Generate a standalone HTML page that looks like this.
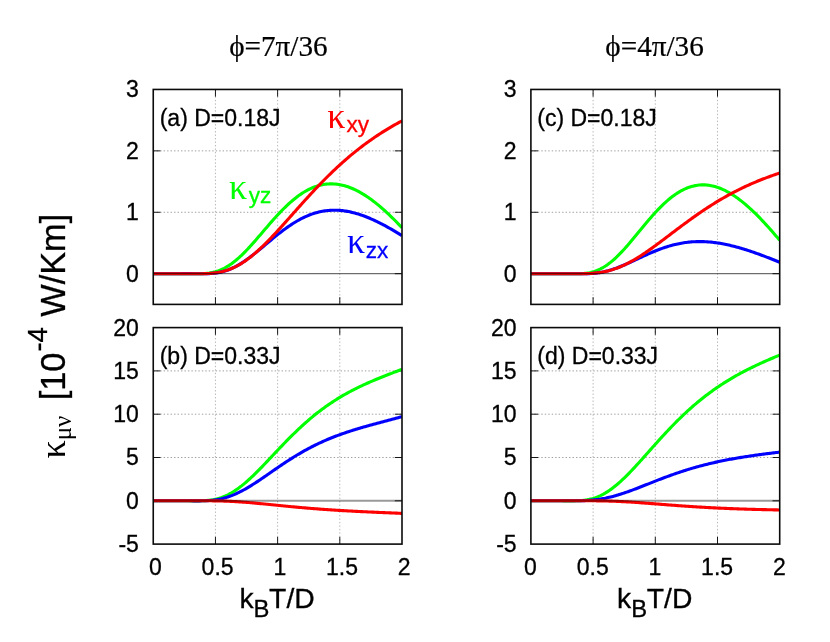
<!DOCTYPE html>
<html><head><meta charset="utf-8"><title>chart</title>
<style>
html,body{margin:0;padding:0;background:#fff;}
body{width:830px;height:642px;overflow:hidden;font-family:"Liberation Sans",sans-serif;}
svg{display:block}
.s{font-family:"Liberation Sans",sans-serif;fill:#000;stroke:#000;stroke-width:0.3}
.t{font-family:"Liberation Serif",serif;fill:#000;stroke:#000;stroke-width:0.2}
.grid{stroke:#858585;stroke-width:0.78;stroke-dasharray:1.4 2.07;fill:none}
.gridv{stroke:#909090;stroke-width:0.65;stroke-dasharray:1.4 2.07;fill:none}
.tick{stroke:#000;stroke-width:0.9;fill:none}
.frame{stroke:#0a0a0a;stroke-width:1.6;fill:none}
.cv{fill:none;stroke-width:3.1;stroke-linejoin:round;stroke-linecap:butt}
</style></head><body>
<svg width="830" height="642" viewBox="0 0 830 642">
<rect width="830" height="642" fill="#fff"/>

<g id="panel-a">
<clipPath id="cla"><rect x="153.25" y="89.45" width="248.75" height="214.95"/></clipPath>
<line class="gridv" x1="215.44" y1="89.45" x2="215.44" y2="304.4"/>
<line class="gridv" x1="277.62" y1="89.45" x2="277.62" y2="304.4"/>
<line class="gridv" x1="339.81" y1="89.45" x2="339.81" y2="304.4"/>
<line class="grid" x1="153.25" y1="212.28" x2="402.0" y2="212.28"/>
<line class="grid" x1="153.25" y1="150.86" x2="402.0" y2="150.86"/>
<line class="tick" x1="215.44" y1="304.4" x2="215.44" y2="297.2"/>
<line class="tick" x1="215.44" y1="89.45" x2="215.44" y2="96.65"/>
<line class="tick" x1="277.62" y1="304.4" x2="277.62" y2="297.2"/>
<line class="tick" x1="277.62" y1="89.45" x2="277.62" y2="96.65"/>
<line class="tick" x1="339.81" y1="304.4" x2="339.81" y2="297.2"/>
<line class="tick" x1="339.81" y1="89.45" x2="339.81" y2="96.65"/>
<line class="tick" x1="153.25" y1="273.69" x2="160.45" y2="273.69"/>
<line class="tick" x1="402.0" y1="273.69" x2="394.8" y2="273.69"/>
<line class="tick" x1="153.25" y1="212.28" x2="160.45" y2="212.28"/>
<line class="tick" x1="402.0" y1="212.28" x2="394.8" y2="212.28"/>
<line class="tick" x1="153.25" y1="150.86" x2="160.45" y2="150.86"/>
<line class="tick" x1="402.0" y1="150.86" x2="394.8" y2="150.86"/>
<g clip-path="url(#cla)">
<path class="cv" stroke="#00ff00" d="M153.25,273.69 L154.49,273.69 L155.74,273.69 L156.98,273.69 L158.22,273.69 L159.47,273.69 L160.71,273.69 L161.96,273.69 L163.20,273.69 L164.44,273.69 L165.69,273.69 L166.93,273.69 L168.18,273.69 L169.42,273.69 L170.66,273.69 L171.91,273.69 L173.15,273.69 L174.39,273.69 L175.64,273.69 L176.88,273.69 L178.12,273.69 L179.37,273.69 L180.61,273.69 L181.86,273.69 L183.10,273.69 L184.34,273.70 L185.59,273.70 L186.83,273.71 L188.07,273.71 L189.32,273.72 L190.56,273.73 L191.81,273.74 L193.05,273.75 L194.29,273.75 L195.54,273.75 L196.78,273.75 L198.03,273.74 L199.27,273.72 L200.51,273.69 L201.76,273.65 L203.00,273.60 L204.24,273.52 L205.49,273.43 L206.73,273.31 L207.97,273.17 L209.22,273.01 L210.46,272.81 L211.71,272.59 L212.95,272.33 L214.19,272.03 L215.44,271.70 L216.68,271.33 L217.93,270.93 L219.17,270.48 L220.41,269.99 L221.66,269.46 L222.90,268.88 L224.14,268.27 L225.39,267.61 L226.63,266.90 L227.88,266.15 L229.12,265.36 L230.36,264.53 L231.61,263.66 L232.85,262.74 L234.09,261.78 L235.34,260.79 L236.58,259.75 L237.82,258.68 L239.07,257.57 L240.31,256.43 L241.56,255.26 L242.80,254.05 L244.04,252.82 L245.29,251.56 L246.53,250.27 L247.78,248.96 L249.02,247.62 L250.26,246.27 L251.51,244.89 L252.75,243.50 L253.99,242.10 L255.24,240.68 L256.48,239.25 L257.73,237.81 L258.97,236.36 L260.21,234.91 L261.46,233.46 L262.70,232.00 L263.94,230.54 L265.19,229.09 L266.43,227.63 L267.68,226.19 L268.92,224.75 L270.16,223.32 L271.41,221.89 L272.65,220.48 L273.89,219.08 L275.14,217.70 L276.38,216.33 L277.62,214.98 L278.87,213.65 L280.11,212.33 L281.36,211.04 L282.60,209.76 L283.84,208.51 L285.09,207.29 L286.33,206.09 L287.58,204.91 L288.82,203.76 L290.06,202.64 L291.31,201.54 L292.55,200.48 L293.79,199.44 L295.04,198.44 L296.28,197.46 L297.52,196.52 L298.77,195.60 L300.01,194.72 L301.26,193.87 L302.50,193.06 L303.74,192.28 L304.99,191.53 L306.23,190.82 L307.48,190.14 L308.72,189.49 L309.96,188.88 L311.21,188.31 L312.45,187.77 L313.69,187.26 L314.94,186.79 L316.18,186.36 L317.43,185.96 L318.67,185.59 L319.91,185.26 L321.16,184.97 L322.40,184.71 L323.64,184.48 L324.89,184.29 L326.13,184.14 L327.38,184.02 L328.62,183.93 L329.86,183.88 L331.11,183.86 L332.35,183.88 L333.59,183.93 L334.84,184.01 L336.08,184.12 L337.32,184.27 L338.57,184.45 L339.81,184.66 L341.06,184.91 L342.30,185.18 L343.54,185.49 L344.79,185.82 L346.03,186.19 L347.27,186.59 L348.52,187.02 L349.76,187.47 L351.01,187.96 L352.25,188.47 L353.49,189.01 L354.74,189.58 L355.98,190.18 L357.23,190.80 L358.47,191.45 L359.71,192.13 L360.96,192.83 L362.20,193.56 L363.44,194.31 L364.69,195.09 L365.93,195.89 L367.17,196.71 L368.42,197.56 L369.66,198.43 L370.91,199.32 L372.15,200.24 L373.39,201.17 L374.64,202.13 L375.88,203.11 L377.12,204.11 L378.37,205.12 L379.61,206.16 L380.86,207.22 L382.10,208.30 L383.34,209.39 L384.59,210.50 L385.83,211.63 L387.08,212.78 L388.32,213.94 L389.56,215.12 L390.81,216.32 L392.05,217.53 L393.29,218.75 L394.54,219.99 L395.78,221.25 L397.02,222.52 L398.27,223.80 L399.51,225.10 L400.76,226.41 L402.00,227.73"/>
<path class="cv" stroke="#0000ff" d="M153.25,273.69 L154.49,273.69 L155.74,273.69 L156.98,273.69 L158.22,273.69 L159.47,273.69 L160.71,273.69 L161.96,273.69 L163.20,273.69 L164.44,273.69 L165.69,273.69 L166.93,273.69 L168.18,273.69 L169.42,273.69 L170.66,273.69 L171.91,273.69 L173.15,273.69 L174.39,273.69 L175.64,273.69 L176.88,273.69 L178.12,273.68 L179.37,273.68 L180.61,273.68 L181.86,273.67 L183.10,273.67 L184.34,273.67 L185.59,273.66 L186.83,273.66 L188.07,273.66 L189.32,273.66 L190.56,273.67 L191.81,273.67 L193.05,273.68 L194.29,273.69 L195.54,273.70 L196.78,273.71 L198.03,273.72 L199.27,273.73 L200.51,273.74 L201.76,273.74 L203.00,273.74 L204.24,273.73 L205.49,273.71 L206.73,273.68 L207.97,273.64 L209.22,273.58 L210.46,273.51 L211.71,273.42 L212.95,273.31 L214.19,273.18 L215.44,273.03 L216.68,272.85 L217.93,272.65 L219.17,272.42 L220.41,272.16 L221.66,271.88 L222.90,271.56 L224.14,271.21 L225.39,270.84 L226.63,270.43 L227.88,269.99 L229.12,269.52 L230.36,269.01 L231.61,268.48 L232.85,267.91 L234.09,267.31 L235.34,266.68 L236.58,266.02 L237.82,265.33 L239.07,264.61 L240.31,263.87 L241.56,263.09 L242.80,262.29 L244.04,261.47 L245.29,260.62 L246.53,259.75 L247.78,258.86 L249.02,257.95 L250.26,257.02 L251.51,256.07 L252.75,255.11 L253.99,254.13 L255.24,253.14 L256.48,252.14 L257.73,251.13 L258.97,250.11 L260.21,249.08 L261.46,248.04 L262.70,247.00 L263.94,245.96 L265.19,244.92 L266.43,243.87 L267.68,242.83 L268.92,241.78 L270.16,240.74 L271.41,239.71 L272.65,238.68 L273.89,237.65 L275.14,236.64 L276.38,235.63 L277.62,234.64 L278.87,233.65 L280.11,232.68 L281.36,231.72 L282.60,230.77 L283.84,229.84 L285.09,228.92 L286.33,228.02 L287.58,227.14 L288.82,226.28 L290.06,225.43 L291.31,224.60 L292.55,223.80 L293.79,223.01 L295.04,222.24 L296.28,221.50 L297.52,220.77 L298.77,220.07 L300.01,219.39 L301.26,218.73 L302.50,218.10 L303.74,217.49 L304.99,216.90 L306.23,216.34 L307.48,215.80 L308.72,215.29 L309.96,214.80 L311.21,214.34 L312.45,213.90 L313.69,213.48 L314.94,213.09 L316.18,212.73 L317.43,212.39 L318.67,212.07 L319.91,211.78 L321.16,211.51 L322.40,211.27 L323.64,211.06 L324.89,210.86 L326.13,210.69 L327.38,210.55 L328.62,210.43 L329.86,210.33 L331.11,210.26 L332.35,210.21 L333.59,210.19 L334.84,210.18 L336.08,210.20 L337.32,210.25 L338.57,210.31 L339.81,210.40 L341.06,210.51 L342.30,210.64 L343.54,210.79 L344.79,210.96 L346.03,211.15 L347.27,211.36 L348.52,211.60 L349.76,211.85 L351.01,212.12 L352.25,212.41 L353.49,212.72 L354.74,213.05 L355.98,213.39 L357.23,213.76 L358.47,214.14 L359.71,214.53 L360.96,214.95 L362.20,215.38 L363.44,215.82 L364.69,216.28 L365.93,216.76 L367.17,217.25 L368.42,217.76 L369.66,218.28 L370.91,218.81 L372.15,219.36 L373.39,219.92 L374.64,220.49 L375.88,221.08 L377.12,221.67 L378.37,222.28 L379.61,222.90 L380.86,223.53 L382.10,224.17 L383.34,224.83 L384.59,225.49 L385.83,226.16 L387.08,226.84 L388.32,227.53 L389.56,228.23 L390.81,228.94 L392.05,229.65 L393.29,230.37 L394.54,231.10 L395.78,231.84 L397.02,232.58 L398.27,233.33 L399.51,234.09 L400.76,234.85 L402.00,235.62"/>
<path class="cv" stroke="#ff0000" d="M153.25,273.69 L154.49,273.69 L155.74,273.69 L156.98,273.69 L158.22,273.69 L159.47,273.69 L160.71,273.69 L161.96,273.69 L163.20,273.69 L164.44,273.69 L165.69,273.69 L166.93,273.69 L168.18,273.69 L169.42,273.69 L170.66,273.69 L171.91,273.69 L173.15,273.69 L174.39,273.69 L175.64,273.69 L176.88,273.69 L178.12,273.69 L179.37,273.69 L180.61,273.69 L181.86,273.69 L183.10,273.69 L184.34,273.69 L185.59,273.69 L186.83,273.69 L188.07,273.69 L189.32,273.69 L190.56,273.70 L191.81,273.70 L193.05,273.70 L194.29,273.71 L195.54,273.71 L196.78,273.72 L198.03,273.72 L199.27,273.72 L200.51,273.71 L201.76,273.70 L203.00,273.68 L204.24,273.66 L205.49,273.63 L206.73,273.58 L207.97,273.53 L209.22,273.46 L210.46,273.38 L211.71,273.28 L212.95,273.16 L214.19,273.03 L215.44,272.87 L216.68,272.70 L217.93,272.50 L219.17,272.27 L220.41,272.02 L221.66,271.75 L222.90,271.45 L224.14,271.12 L225.39,270.76 L226.63,270.37 L227.88,269.95 L229.12,269.50 L230.36,269.03 L231.61,268.51 L232.85,267.97 L234.09,267.40 L235.34,266.80 L236.58,266.16 L237.82,265.49 L239.07,264.80 L240.31,264.07 L241.56,263.31 L242.80,262.52 L244.04,261.70 L245.29,260.85 L246.53,259.97 L247.78,259.07 L249.02,258.13 L250.26,257.17 L251.51,256.19 L252.75,255.17 L253.99,254.14 L255.24,253.08 L256.48,251.99 L257.73,250.89 L258.97,249.76 L260.21,248.61 L261.46,247.44 L262.70,246.25 L263.94,245.05 L265.19,243.83 L266.43,242.59 L267.68,241.33 L268.92,240.06 L270.16,238.78 L271.41,237.48 L272.65,236.17 L273.89,234.85 L275.14,233.52 L276.38,232.18 L277.62,230.83 L278.87,229.48 L280.11,228.11 L281.36,226.74 L282.60,225.36 L283.84,223.98 L285.09,222.59 L286.33,221.20 L287.58,219.81 L288.82,218.42 L290.06,217.02 L291.31,215.62 L292.55,214.22 L293.79,212.82 L295.04,211.43 L296.28,210.03 L297.52,208.63 L298.77,207.24 L300.01,205.85 L301.26,204.46 L302.50,203.08 L303.74,201.70 L304.99,200.33 L306.23,198.96 L307.48,197.59 L308.72,196.23 L309.96,194.88 L311.21,193.54 L312.45,192.20 L313.69,190.86 L314.94,189.54 L316.18,188.22 L317.43,186.91 L318.67,185.61 L319.91,184.32 L321.16,183.03 L322.40,181.76 L323.64,180.49 L324.89,179.23 L326.13,177.99 L327.38,176.75 L328.62,175.52 L329.86,174.30 L331.11,173.09 L332.35,171.89 L333.59,170.70 L334.84,169.52 L336.08,168.35 L337.32,167.20 L338.57,166.05 L339.81,164.91 L341.06,163.78 L342.30,162.67 L343.54,161.56 L344.79,160.47 L346.03,159.38 L347.27,158.31 L348.52,157.25 L349.76,156.19 L351.01,155.15 L352.25,154.12 L353.49,153.10 L354.74,152.09 L355.98,151.09 L357.23,150.10 L358.47,149.12 L359.71,148.15 L360.96,147.20 L362.20,146.25 L363.44,145.31 L364.69,144.38 L365.93,143.47 L367.17,142.56 L368.42,141.66 L369.66,140.78 L370.91,139.90 L372.15,139.03 L373.39,138.17 L374.64,137.32 L375.88,136.48 L377.12,135.65 L378.37,134.83 L379.61,134.02 L380.86,133.22 L382.10,132.43 L383.34,131.64 L384.59,130.87 L385.83,130.10 L387.08,129.34 L388.32,128.59 L389.56,127.85 L390.81,127.12 L392.05,126.39 L393.29,125.67 L394.54,124.97 L395.78,124.26 L397.02,123.57 L398.27,122.88 L399.51,122.21 L400.76,121.53 L402.00,120.87"/>
</g>
<line x1="153.25" y1="273.69" x2="402.0" y2="273.69" stroke="#4a4a4a" stroke-width="1.0" style="mix-blend-mode:multiply"/>
<rect class="frame" x="153.25" y="89.45" width="248.75" height="214.95"/>
<text class="s" font-size="23" text-anchor="end" x="138.9" y="281.6">0</text>
<text class="s" font-size="23" text-anchor="end" x="138.9" y="220.2">1</text>
<text class="s" font-size="23" text-anchor="end" x="138.9" y="158.8">2</text>
<text class="s" font-size="23" text-anchor="end" x="138.9" y="97.3">3</text>
</g>
<g id="panel-b">
<clipPath id="clb"><rect x="153.25" y="327.6" width="248.75" height="216.5"/></clipPath>
<line class="gridv" x1="215.44" y1="327.6" x2="215.44" y2="544.1"/>
<line class="gridv" x1="277.62" y1="327.6" x2="277.62" y2="544.1"/>
<line class="gridv" x1="339.81" y1="327.6" x2="339.81" y2="544.1"/>
<line class="grid" x1="153.25" y1="457.50" x2="402.0" y2="457.50"/>
<line class="grid" x1="153.25" y1="414.20" x2="402.0" y2="414.20"/>
<line class="grid" x1="153.25" y1="370.90" x2="402.0" y2="370.90"/>
<line class="tick" x1="215.44" y1="544.1" x2="215.44" y2="536.9"/>
<line class="tick" x1="215.44" y1="327.6" x2="215.44" y2="334.8"/>
<line class="tick" x1="277.62" y1="544.1" x2="277.62" y2="536.9"/>
<line class="tick" x1="277.62" y1="327.6" x2="277.62" y2="334.8"/>
<line class="tick" x1="339.81" y1="544.1" x2="339.81" y2="536.9"/>
<line class="tick" x1="339.81" y1="327.6" x2="339.81" y2="334.8"/>
<line class="tick" x1="153.25" y1="500.80" x2="160.45" y2="500.80"/>
<line class="tick" x1="402.0" y1="500.80" x2="394.8" y2="500.80"/>
<line class="tick" x1="153.25" y1="457.50" x2="160.45" y2="457.50"/>
<line class="tick" x1="402.0" y1="457.50" x2="394.8" y2="457.50"/>
<line class="tick" x1="153.25" y1="414.20" x2="160.45" y2="414.20"/>
<line class="tick" x1="402.0" y1="414.20" x2="394.8" y2="414.20"/>
<line class="tick" x1="153.25" y1="370.90" x2="160.45" y2="370.90"/>
<line class="tick" x1="402.0" y1="370.90" x2="394.8" y2="370.90"/>
<g clip-path="url(#clb)">
<path class="cv" stroke="#00ff00" d="M153.25,500.80 L154.49,500.80 L155.74,500.80 L156.98,500.80 L158.22,500.80 L159.47,500.80 L160.71,500.80 L161.96,500.80 L163.20,500.80 L164.44,500.80 L165.69,500.80 L166.93,500.80 L168.18,500.80 L169.42,500.80 L170.66,500.80 L171.91,500.80 L173.15,500.80 L174.39,500.80 L175.64,500.80 L176.88,500.80 L178.12,500.80 L179.37,500.80 L180.61,500.80 L181.86,500.80 L183.10,500.80 L184.34,500.80 L185.59,500.81 L186.83,500.81 L188.07,500.82 L189.32,500.82 L190.56,500.83 L191.81,500.84 L193.05,500.84 L194.29,500.85 L195.54,500.85 L196.78,500.85 L198.03,500.84 L199.27,500.83 L200.51,500.81 L201.76,500.78 L203.00,500.73 L204.24,500.68 L205.49,500.60 L206.73,500.51 L207.97,500.40 L209.22,500.27 L210.46,500.11 L211.71,499.93 L212.95,499.73 L214.19,499.50 L215.44,499.23 L216.68,498.94 L217.93,498.61 L219.17,498.25 L220.41,497.86 L221.66,497.44 L222.90,496.98 L224.14,496.48 L225.39,495.95 L226.63,495.38 L227.88,494.78 L229.12,494.14 L230.36,493.47 L231.61,492.76 L232.85,492.01 L234.09,491.23 L235.34,490.42 L236.58,489.58 L237.82,488.70 L239.07,487.79 L240.31,486.85 L241.56,485.89 L242.80,484.89 L244.04,483.87 L245.29,482.82 L246.53,481.74 L247.78,480.64 L249.02,479.52 L250.26,478.38 L251.51,477.22 L252.75,476.04 L253.99,474.84 L255.24,473.62 L256.48,472.39 L257.73,471.15 L258.97,469.89 L260.21,468.63 L261.46,467.35 L262.70,466.06 L263.94,464.76 L265.19,463.46 L266.43,462.15 L267.68,460.84 L268.92,459.52 L270.16,458.20 L271.41,456.88 L272.65,455.56 L273.89,454.24 L275.14,452.92 L276.38,451.60 L277.62,450.28 L278.87,448.97 L280.11,447.66 L281.36,446.35 L282.60,445.06 L283.84,443.77 L285.09,442.48 L286.33,441.20 L287.58,439.93 L288.82,438.67 L290.06,437.42 L291.31,436.18 L292.55,434.95 L293.79,433.73 L295.04,432.52 L296.28,431.32 L297.52,430.13 L298.77,428.95 L300.01,427.79 L301.26,426.63 L302.50,425.49 L303.74,424.37 L304.99,423.25 L306.23,422.15 L307.48,421.06 L308.72,419.99 L309.96,418.93 L311.21,417.88 L312.45,416.84 L313.69,415.82 L314.94,414.81 L316.18,413.82 L317.43,412.84 L318.67,411.87 L319.91,410.92 L321.16,409.98 L322.40,409.05 L323.64,408.14 L324.89,407.24 L326.13,406.35 L327.38,405.47 L328.62,404.61 L329.86,403.76 L331.11,402.92 L332.35,402.10 L333.59,401.29 L334.84,400.49 L336.08,399.70 L337.32,398.92 L338.57,398.16 L339.81,397.40 L341.06,396.66 L342.30,395.93 L343.54,395.21 L344.79,394.50 L346.03,393.80 L347.27,393.11 L348.52,392.43 L349.76,391.76 L351.01,391.10 L352.25,390.44 L353.49,389.80 L354.74,389.17 L355.98,388.54 L357.23,387.92 L358.47,387.32 L359.71,386.71 L360.96,386.12 L362.20,385.54 L363.44,384.96 L364.69,384.38 L365.93,383.82 L367.17,383.26 L368.42,382.71 L369.66,382.16 L370.91,381.62 L372.15,381.09 L373.39,380.56 L374.64,380.03 L375.88,379.51 L377.12,379.00 L378.37,378.49 L379.61,377.98 L380.86,377.48 L382.10,376.98 L383.34,376.48 L384.59,375.99 L385.83,375.50 L387.08,375.02 L388.32,374.54 L389.56,374.06 L390.81,373.58 L392.05,373.10 L393.29,372.63 L394.54,372.16 L395.78,371.69 L397.02,371.22 L398.27,370.75 L399.51,370.29 L400.76,369.82 L402.00,369.36"/>
<path class="cv" stroke="#0000ff" d="M153.25,500.80 L154.49,500.80 L155.74,500.80 L156.98,500.80 L158.22,500.80 L159.47,500.80 L160.71,500.80 L161.96,500.80 L163.20,500.80 L164.44,500.80 L165.69,500.80 L166.93,500.80 L168.18,500.80 L169.42,500.80 L170.66,500.80 L171.91,500.80 L173.15,500.80 L174.39,500.80 L175.64,500.80 L176.88,500.80 L178.12,500.80 L179.37,500.80 L180.61,500.80 L181.86,500.80 L183.10,500.80 L184.34,500.80 L185.59,500.80 L186.83,500.80 L188.07,500.81 L189.32,500.81 L190.56,500.82 L191.81,500.82 L193.05,500.83 L194.29,500.83 L195.54,500.84 L196.78,500.84 L198.03,500.84 L199.27,500.84 L200.51,500.83 L201.76,500.81 L203.00,500.79 L204.24,500.76 L205.49,500.72 L206.73,500.66 L207.97,500.60 L209.22,500.52 L210.46,500.42 L211.71,500.31 L212.95,500.18 L214.19,500.03 L215.44,499.87 L216.68,499.68 L217.93,499.47 L219.17,499.24 L220.41,498.99 L221.66,498.71 L222.90,498.41 L224.14,498.09 L225.39,497.74 L226.63,497.37 L227.88,496.97 L229.12,496.55 L230.36,496.10 L231.61,495.64 L232.85,495.14 L234.09,494.63 L235.34,494.09 L236.58,493.53 L237.82,492.95 L239.07,492.35 L240.31,491.73 L241.56,491.08 L242.80,490.42 L244.04,489.74 L245.29,489.05 L246.53,488.34 L247.78,487.61 L249.02,486.86 L250.26,486.11 L251.51,485.34 L252.75,484.56 L253.99,483.76 L255.24,482.96 L256.48,482.15 L257.73,481.33 L258.97,480.50 L260.21,479.66 L261.46,478.82 L262.70,477.97 L263.94,477.12 L265.19,476.27 L266.43,475.41 L267.68,474.55 L268.92,473.69 L270.16,472.82 L271.41,471.96 L272.65,471.10 L273.89,470.24 L275.14,469.38 L276.38,468.53 L277.62,467.67 L278.87,466.82 L280.11,465.98 L281.36,465.14 L282.60,464.30 L283.84,463.47 L285.09,462.65 L286.33,461.83 L287.58,461.01 L288.82,460.21 L290.06,459.41 L291.31,458.62 L292.55,457.84 L293.79,457.06 L295.04,456.30 L296.28,455.54 L297.52,454.79 L298.77,454.05 L300.01,453.31 L301.26,452.59 L302.50,451.88 L303.74,451.17 L304.99,450.48 L306.23,449.79 L307.48,449.11 L308.72,448.45 L309.96,447.79 L311.21,447.14 L312.45,446.50 L313.69,445.87 L314.94,445.25 L316.18,444.64 L317.43,444.04 L318.67,443.45 L319.91,442.86 L321.16,442.29 L322.40,441.73 L323.64,441.17 L324.89,440.62 L326.13,440.08 L327.38,439.55 L328.62,439.03 L329.86,438.52 L331.11,438.01 L332.35,437.51 L333.59,437.02 L334.84,436.54 L336.08,436.06 L337.32,435.59 L338.57,435.13 L339.81,434.68 L341.06,434.23 L342.30,433.79 L343.54,433.36 L344.79,432.93 L346.03,432.51 L347.27,432.09 L348.52,431.68 L349.76,431.27 L351.01,430.87 L352.25,430.48 L353.49,430.09 L354.74,429.70 L355.98,429.32 L357.23,428.94 L358.47,428.57 L359.71,428.20 L360.96,427.83 L362.20,427.47 L363.44,427.11 L364.69,426.76 L365.93,426.41 L367.17,426.05 L368.42,425.71 L369.66,425.36 L370.91,425.02 L372.15,424.68 L373.39,424.34 L374.64,424.00 L375.88,423.66 L377.12,423.33 L378.37,422.99 L379.61,422.66 L380.86,422.33 L382.10,421.99 L383.34,421.66 L384.59,421.33 L385.83,421.00 L387.08,420.67 L388.32,420.33 L389.56,420.00 L390.81,419.67 L392.05,419.33 L393.29,419.00 L394.54,418.66 L395.78,418.32 L397.02,417.99 L398.27,417.64 L399.51,417.30 L400.76,416.96 L402.00,416.61"/>
<path class="cv" stroke="#ff0000" d="M153.25,500.80 L154.49,500.80 L155.74,500.80 L156.98,500.80 L158.22,500.80 L159.47,500.80 L160.71,500.80 L161.96,500.80 L163.20,500.80 L164.44,500.80 L165.69,500.80 L166.93,500.80 L168.18,500.80 L169.42,500.80 L170.66,500.80 L171.91,500.80 L173.15,500.80 L174.39,500.80 L175.64,500.80 L176.88,500.80 L178.12,500.80 L179.37,500.80 L180.61,500.80 L181.86,500.80 L183.10,500.80 L184.34,500.80 L185.59,500.80 L186.83,500.80 L188.07,500.80 L189.32,500.80 L190.56,500.80 L191.81,500.80 L193.05,500.80 L194.29,500.79 L195.54,500.79 L196.78,500.79 L198.03,500.79 L199.27,500.79 L200.51,500.79 L201.76,500.79 L203.00,500.79 L204.24,500.79 L205.49,500.79 L206.73,500.79 L207.97,500.80 L209.22,500.80 L210.46,500.81 L211.71,500.82 L212.95,500.84 L214.19,500.85 L215.44,500.87 L216.68,500.89 L217.93,500.91 L219.17,500.94 L220.41,500.97 L221.66,501.00 L222.90,501.04 L224.14,501.08 L225.39,501.12 L226.63,501.17 L227.88,501.22 L229.12,501.27 L230.36,501.33 L231.61,501.39 L232.85,501.46 L234.09,501.53 L235.34,501.60 L236.58,501.67 L237.82,501.75 L239.07,501.83 L240.31,501.91 L241.56,502.00 L242.80,502.09 L244.04,502.18 L245.29,502.28 L246.53,502.38 L247.78,502.48 L249.02,502.58 L250.26,502.69 L251.51,502.79 L252.75,502.90 L253.99,503.01 L255.24,503.13 L256.48,503.24 L257.73,503.36 L258.97,503.47 L260.21,503.59 L261.46,503.71 L262.70,503.83 L263.94,503.95 L265.19,504.08 L266.43,504.20 L267.68,504.32 L268.92,504.45 L270.16,504.57 L271.41,504.70 L272.65,504.82 L273.89,504.95 L275.14,505.07 L276.38,505.20 L277.62,505.32 L278.87,505.45 L280.11,505.57 L281.36,505.70 L282.60,505.82 L283.84,505.94 L285.09,506.07 L286.33,506.19 L287.58,506.31 L288.82,506.43 L290.06,506.55 L291.31,506.67 L292.55,506.79 L293.79,506.90 L295.04,507.02 L296.28,507.13 L297.52,507.25 L298.77,507.36 L300.01,507.47 L301.26,507.58 L302.50,507.69 L303.74,507.80 L304.99,507.91 L306.23,508.02 L307.48,508.12 L308.72,508.23 L309.96,508.33 L311.21,508.43 L312.45,508.53 L313.69,508.63 L314.94,508.73 L316.18,508.82 L317.43,508.92 L318.67,509.01 L319.91,509.11 L321.16,509.20 L322.40,509.29 L323.64,509.38 L324.89,509.47 L326.13,509.55 L327.38,509.64 L328.62,509.72 L329.86,509.81 L331.11,509.89 L332.35,509.97 L333.59,510.05 L334.84,510.13 L336.08,510.21 L337.32,510.29 L338.57,510.36 L339.81,510.44 L341.06,510.51 L342.30,510.59 L343.54,510.66 L344.79,510.73 L346.03,510.80 L347.27,510.87 L348.52,510.94 L349.76,511.01 L351.01,511.07 L352.25,511.14 L353.49,511.21 L354.74,511.27 L355.98,511.33 L357.23,511.40 L358.47,511.46 L359.71,511.52 L360.96,511.58 L362.20,511.64 L363.44,511.70 L364.69,511.76 L365.93,511.82 L367.17,511.88 L368.42,511.94 L369.66,512.00 L370.91,512.05 L372.15,512.11 L373.39,512.17 L374.64,512.22 L375.88,512.28 L377.12,512.33 L378.37,512.39 L379.61,512.44 L380.86,512.49 L382.10,512.55 L383.34,512.60 L384.59,512.65 L385.83,512.71 L387.08,512.76 L388.32,512.81 L389.56,512.86 L390.81,512.91 L392.05,512.97 L393.29,513.02 L394.54,513.07 L395.78,513.12 L397.02,513.17 L398.27,513.22 L399.51,513.27 L400.76,513.33 L402.00,513.38"/>
</g>
<line x1="153.25" y1="500.80" x2="402.0" y2="500.80" stroke="#999" stroke-width="1.9" style="mix-blend-mode:multiply"/>
<rect class="frame" x="153.25" y="327.6" width="248.75" height="216.50"/>
<text class="s" font-size="23" text-anchor="end" x="138.9" y="552.0">-5</text>
<text class="s" font-size="23" text-anchor="end" x="138.9" y="508.7">0</text>
<text class="s" font-size="23" text-anchor="end" x="138.9" y="465.4">5</text>
<text class="s" font-size="23" text-anchor="end" x="138.9" y="422.1">10</text>
<text class="s" font-size="23" text-anchor="end" x="138.9" y="378.8">15</text>
<text class="s" font-size="23" text-anchor="end" x="138.9" y="335.5">20</text>
<text class="s" font-size="23" text-anchor="middle" x="155.4" y="574.8">0</text>
<text class="s" font-size="23" text-anchor="middle" x="217.6" y="574.8">0.5</text>
<text class="s" font-size="23" text-anchor="middle" x="279.8" y="574.8">1</text>
<text class="s" font-size="23" text-anchor="middle" x="342.0" y="574.8">1.5</text>
<text class="s" font-size="23" text-anchor="middle" x="404.2" y="574.8">2</text>
</g>
<g id="panel-c">
<clipPath id="clc"><rect x="530.9" y="89.45" width="248.80000000000007" height="214.95"/></clipPath>
<line class="gridv" x1="593.10" y1="89.45" x2="593.10" y2="304.4"/>
<line class="gridv" x1="655.30" y1="89.45" x2="655.30" y2="304.4"/>
<line class="gridv" x1="717.50" y1="89.45" x2="717.50" y2="304.4"/>
<line class="grid" x1="530.9" y1="212.28" x2="779.7" y2="212.28"/>
<line class="grid" x1="530.9" y1="150.86" x2="779.7" y2="150.86"/>
<line class="tick" x1="593.10" y1="304.4" x2="593.10" y2="297.2"/>
<line class="tick" x1="593.10" y1="89.45" x2="593.10" y2="96.65"/>
<line class="tick" x1="655.30" y1="304.4" x2="655.30" y2="297.2"/>
<line class="tick" x1="655.30" y1="89.45" x2="655.30" y2="96.65"/>
<line class="tick" x1="717.50" y1="304.4" x2="717.50" y2="297.2"/>
<line class="tick" x1="717.50" y1="89.45" x2="717.50" y2="96.65"/>
<line class="tick" x1="530.9" y1="273.69" x2="538.1" y2="273.69"/>
<line class="tick" x1="779.7" y1="273.69" x2="772.5" y2="273.69"/>
<line class="tick" x1="530.9" y1="212.28" x2="538.1" y2="212.28"/>
<line class="tick" x1="779.7" y1="212.28" x2="772.5" y2="212.28"/>
<line class="tick" x1="530.9" y1="150.86" x2="538.1" y2="150.86"/>
<line class="tick" x1="779.7" y1="150.86" x2="772.5" y2="150.86"/>
<g clip-path="url(#clc)">
<path class="cv" stroke="#00ff00" d="M530.90,273.69 L532.14,273.69 L533.39,273.69 L534.63,273.69 L535.88,273.69 L537.12,273.69 L538.36,273.69 L539.61,273.69 L540.85,273.69 L542.10,273.69 L543.34,273.69 L544.58,273.69 L545.83,273.69 L547.07,273.69 L548.32,273.69 L549.56,273.69 L550.80,273.69 L552.05,273.69 L553.29,273.69 L554.54,273.69 L555.78,273.69 L557.02,273.69 L558.27,273.69 L559.51,273.69 L560.76,273.69 L562.00,273.69 L563.24,273.70 L564.49,273.70 L565.73,273.71 L566.98,273.72 L568.22,273.73 L569.46,273.74 L570.71,273.75 L571.95,273.77 L573.20,273.77 L574.44,273.78 L575.68,273.78 L576.93,273.77 L578.17,273.75 L579.42,273.71 L580.66,273.67 L581.90,273.60 L583.15,273.52 L584.39,273.41 L585.64,273.27 L586.88,273.11 L588.12,272.92 L589.37,272.69 L590.61,272.43 L591.86,272.13 L593.10,271.80 L594.34,271.42 L595.59,271.00 L596.83,270.53 L598.08,270.02 L599.32,269.47 L600.56,268.87 L601.81,268.22 L603.05,267.53 L604.30,266.79 L605.54,266.00 L606.78,265.16 L608.03,264.28 L609.27,263.36 L610.52,262.39 L611.76,261.37 L613.00,260.32 L614.25,259.22 L615.49,258.09 L616.74,256.91 L617.98,255.71 L619.22,254.46 L620.47,253.19 L621.71,251.88 L622.96,250.55 L624.20,249.18 L625.44,247.80 L626.69,246.39 L627.93,244.96 L629.18,243.51 L630.42,242.05 L631.66,240.57 L632.91,239.08 L634.15,237.59 L635.40,236.08 L636.64,234.57 L637.88,233.05 L639.13,231.54 L640.37,230.02 L641.62,228.51 L642.86,227.00 L644.10,225.50 L645.35,224.01 L646.59,222.52 L647.84,221.05 L649.08,219.60 L650.32,218.15 L651.57,216.73 L652.81,215.32 L654.06,213.93 L655.30,212.57 L656.54,211.22 L657.79,209.91 L659.03,208.61 L660.28,207.34 L661.52,206.10 L662.76,204.89 L664.01,203.71 L665.25,202.55 L666.50,201.43 L667.74,200.35 L668.98,199.29 L670.23,198.27 L671.47,197.28 L672.72,196.33 L673.96,195.41 L675.20,194.53 L676.45,193.69 L677.69,192.88 L678.94,192.11 L680.18,191.38 L681.42,190.69 L682.67,190.03 L683.91,189.42 L685.16,188.84 L686.40,188.30 L687.64,187.80 L688.89,187.34 L690.13,186.92 L691.38,186.54 L692.62,186.20 L693.86,185.90 L695.11,185.63 L696.35,185.41 L697.60,185.22 L698.84,185.08 L700.08,184.97 L701.33,184.90 L702.57,184.87 L703.82,184.88 L705.06,184.92 L706.30,185.00 L707.55,185.12 L708.79,185.28 L710.04,185.47 L711.28,185.70 L712.52,185.96 L713.77,186.26 L715.01,186.59 L716.26,186.96 L717.50,187.37 L718.74,187.80 L719.99,188.27 L721.23,188.77 L722.48,189.31 L723.72,189.88 L724.96,190.47 L726.21,191.10 L727.45,191.76 L728.70,192.45 L729.94,193.17 L731.18,193.92 L732.43,194.70 L733.67,195.50 L734.92,196.33 L736.16,197.19 L737.40,198.08 L738.65,198.99 L739.89,199.93 L741.14,200.89 L742.38,201.87 L743.62,202.88 L744.87,203.92 L746.11,204.97 L747.36,206.05 L748.60,207.15 L749.84,208.28 L751.09,209.42 L752.33,210.58 L753.58,211.76 L754.82,212.97 L756.06,214.19 L757.31,215.43 L758.55,216.69 L759.80,217.96 L761.04,219.25 L762.28,220.56 L763.53,221.88 L764.77,223.22 L766.02,224.58 L767.26,225.95 L768.50,227.33 L769.75,228.73 L770.99,230.14 L772.24,231.56 L773.48,232.99 L774.72,234.44 L775.97,235.90 L777.21,237.37 L778.46,238.85 L779.70,240.34"/>
<path class="cv" stroke="#0000ff" d="M530.90,273.69 L532.14,273.69 L533.39,273.69 L534.63,273.69 L535.88,273.69 L537.12,273.69 L538.36,273.69 L539.61,273.69 L540.85,273.69 L542.10,273.69 L543.34,273.69 L544.58,273.69 L545.83,273.69 L547.07,273.69 L548.32,273.69 L549.56,273.69 L550.80,273.69 L552.05,273.69 L553.29,273.69 L554.54,273.69 L555.78,273.69 L557.02,273.69 L558.27,273.68 L559.51,273.68 L560.76,273.68 L562.00,273.68 L563.24,273.68 L564.49,273.68 L565.73,273.68 L566.98,273.69 L568.22,273.69 L569.46,273.70 L570.71,273.71 L571.95,273.72 L573.20,273.74 L574.44,273.75 L575.68,273.76 L576.93,273.78 L578.17,273.79 L579.42,273.79 L580.66,273.80 L581.90,273.80 L583.15,273.79 L584.39,273.78 L585.64,273.75 L586.88,273.72 L588.12,273.68 L589.37,273.62 L590.61,273.55 L591.86,273.46 L593.10,273.36 L594.34,273.25 L595.59,273.11 L596.83,272.96 L598.08,272.79 L599.32,272.60 L600.56,272.40 L601.81,272.17 L603.05,271.92 L604.30,271.66 L605.54,271.37 L606.78,271.06 L608.03,270.74 L609.27,270.39 L610.52,270.03 L611.76,269.65 L613.00,269.25 L614.25,268.84 L615.49,268.40 L616.74,267.96 L617.98,267.49 L619.22,267.02 L620.47,266.53 L621.71,266.02 L622.96,265.51 L624.20,264.98 L625.44,264.45 L626.69,263.90 L627.93,263.35 L629.18,262.79 L630.42,262.22 L631.66,261.65 L632.91,261.08 L634.15,260.50 L635.40,259.92 L636.64,259.34 L637.88,258.76 L639.13,258.17 L640.37,257.59 L641.62,257.01 L642.86,256.44 L644.10,255.86 L645.35,255.30 L646.59,254.73 L647.84,254.17 L649.08,253.62 L650.32,253.08 L651.57,252.54 L652.81,252.02 L654.06,251.50 L655.30,250.99 L656.54,250.49 L657.79,250.00 L659.03,249.52 L660.28,249.06 L661.52,248.60 L662.76,248.16 L664.01,247.73 L665.25,247.31 L666.50,246.91 L667.74,246.52 L668.98,246.14 L670.23,245.78 L671.47,245.43 L672.72,245.10 L673.96,244.78 L675.20,244.48 L676.45,244.19 L677.69,243.92 L678.94,243.66 L680.18,243.41 L681.42,243.18 L682.67,242.97 L683.91,242.77 L685.16,242.59 L686.40,242.42 L687.64,242.27 L688.89,242.13 L690.13,242.01 L691.38,241.91 L692.62,241.81 L693.86,241.74 L695.11,241.68 L696.35,241.63 L697.60,241.60 L698.84,241.58 L700.08,241.57 L701.33,241.59 L702.57,241.61 L703.82,241.65 L705.06,241.70 L706.30,241.77 L707.55,241.85 L708.79,241.94 L710.04,242.04 L711.28,242.16 L712.52,242.29 L713.77,242.44 L715.01,242.59 L716.26,242.76 L717.50,242.94 L718.74,243.13 L719.99,243.33 L721.23,243.55 L722.48,243.77 L723.72,244.01 L724.96,244.26 L726.21,244.51 L727.45,244.78 L728.70,245.05 L729.94,245.34 L731.18,245.64 L732.43,245.94 L733.67,246.25 L734.92,246.58 L736.16,246.91 L737.40,247.25 L738.65,247.60 L739.89,247.95 L741.14,248.31 L742.38,248.68 L743.62,249.06 L744.87,249.45 L746.11,249.84 L747.36,250.24 L748.60,250.64 L749.84,251.05 L751.09,251.47 L752.33,251.89 L753.58,252.32 L754.82,252.75 L756.06,253.19 L757.31,253.63 L758.55,254.08 L759.80,254.54 L761.04,254.99 L762.28,255.45 L763.53,255.92 L764.77,256.39 L766.02,256.86 L767.26,257.34 L768.50,257.82 L769.75,258.30 L770.99,258.79 L772.24,259.28 L773.48,259.77 L774.72,260.26 L775.97,260.76 L777.21,261.26 L778.46,261.76 L779.70,262.26"/>
<path class="cv" stroke="#ff0000" d="M530.90,273.69 L532.14,273.69 L533.39,273.69 L534.63,273.69 L535.88,273.69 L537.12,273.69 L538.36,273.69 L539.61,273.69 L540.85,273.69 L542.10,273.69 L543.34,273.69 L544.58,273.69 L545.83,273.69 L547.07,273.69 L548.32,273.69 L549.56,273.69 L550.80,273.69 L552.05,273.69 L553.29,273.69 L554.54,273.69 L555.78,273.69 L557.02,273.69 L558.27,273.69 L559.51,273.69 L560.76,273.69 L562.00,273.68 L563.24,273.68 L564.49,273.68 L565.73,273.68 L566.98,273.69 L568.22,273.69 L569.46,273.69 L570.71,273.69 L571.95,273.70 L573.20,273.70 L574.44,273.71 L575.68,273.71 L576.93,273.71 L578.17,273.71 L579.42,273.71 L580.66,273.70 L581.90,273.69 L583.15,273.68 L584.39,273.66 L585.64,273.63 L586.88,273.60 L588.12,273.55 L589.37,273.50 L590.61,273.43 L591.86,273.36 L593.10,273.27 L594.34,273.16 L595.59,273.04 L596.83,272.91 L598.08,272.76 L599.32,272.59 L600.56,272.41 L601.81,272.21 L603.05,271.99 L604.30,271.74 L605.54,271.48 L606.78,271.20 L608.03,270.90 L609.27,270.58 L610.52,270.23 L611.76,269.87 L613.00,269.48 L614.25,269.07 L615.49,268.65 L616.74,268.20 L617.98,267.72 L619.22,267.23 L620.47,266.72 L621.71,266.18 L622.96,265.63 L624.20,265.06 L625.44,264.46 L626.69,263.85 L627.93,263.22 L629.18,262.57 L630.42,261.90 L631.66,261.22 L632.91,260.52 L634.15,259.80 L635.40,259.07 L636.64,258.32 L637.88,257.56 L639.13,256.78 L640.37,255.99 L641.62,255.18 L642.86,254.37 L644.10,253.54 L645.35,252.70 L646.59,251.85 L647.84,251.00 L649.08,250.13 L650.32,249.25 L651.57,248.37 L652.81,247.47 L654.06,246.57 L655.30,245.67 L656.54,244.76 L657.79,243.84 L659.03,242.92 L660.28,241.99 L661.52,241.06 L662.76,240.13 L664.01,239.19 L665.25,238.26 L666.50,237.32 L667.74,236.38 L668.98,235.43 L670.23,234.49 L671.47,233.55 L672.72,232.61 L673.96,231.67 L675.20,230.73 L676.45,229.79 L677.69,228.85 L678.94,227.92 L680.18,226.99 L681.42,226.06 L682.67,225.13 L683.91,224.21 L685.16,223.29 L686.40,222.38 L687.64,221.47 L688.89,220.56 L690.13,219.66 L691.38,218.77 L692.62,217.88 L693.86,216.99 L695.11,216.11 L696.35,215.24 L697.60,214.37 L698.84,213.51 L700.08,212.66 L701.33,211.81 L702.57,210.97 L703.82,210.13 L705.06,209.31 L706.30,208.49 L707.55,207.67 L708.79,206.87 L710.04,206.07 L711.28,205.27 L712.52,204.49 L713.77,203.71 L715.01,202.94 L716.26,202.18 L717.50,201.43 L718.74,200.68 L719.99,199.94 L721.23,199.21 L722.48,198.48 L723.72,197.77 L724.96,197.06 L726.21,196.36 L727.45,195.67 L728.70,194.98 L729.94,194.30 L731.18,193.64 L732.43,192.97 L733.67,192.32 L734.92,191.67 L736.16,191.03 L737.40,190.40 L738.65,189.78 L739.89,189.16 L741.14,188.55 L742.38,187.95 L743.62,187.36 L744.87,186.77 L746.11,186.19 L747.36,185.62 L748.60,185.06 L749.84,184.50 L751.09,183.95 L752.33,183.40 L753.58,182.87 L754.82,182.34 L756.06,181.81 L757.31,181.30 L758.55,180.79 L759.80,180.28 L761.04,179.79 L762.28,179.30 L763.53,178.81 L764.77,178.34 L766.02,177.87 L767.26,177.40 L768.50,176.94 L769.75,176.49 L770.99,176.04 L772.24,175.60 L773.48,175.16 L774.72,174.73 L775.97,174.31 L777.21,173.89 L778.46,173.47 L779.70,173.07"/>
</g>
<line x1="530.9" y1="273.69" x2="779.7" y2="273.69" stroke="#4a4a4a" stroke-width="1.0" style="mix-blend-mode:multiply"/>
<rect class="frame" x="530.9" y="89.45" width="248.80" height="214.95"/>
<text class="s" font-size="23" text-anchor="end" x="516.6" y="281.6">0</text>
<text class="s" font-size="23" text-anchor="end" x="516.6" y="220.2">1</text>
<text class="s" font-size="23" text-anchor="end" x="516.6" y="158.8">2</text>
<text class="s" font-size="23" text-anchor="end" x="516.6" y="97.3">3</text>
</g>
<g id="panel-d">
<clipPath id="cld"><rect x="530.9" y="327.6" width="248.80000000000007" height="216.5"/></clipPath>
<line class="gridv" x1="593.10" y1="327.6" x2="593.10" y2="544.1"/>
<line class="gridv" x1="655.30" y1="327.6" x2="655.30" y2="544.1"/>
<line class="gridv" x1="717.50" y1="327.6" x2="717.50" y2="544.1"/>
<line class="grid" x1="530.9" y1="457.50" x2="779.7" y2="457.50"/>
<line class="grid" x1="530.9" y1="414.20" x2="779.7" y2="414.20"/>
<line class="grid" x1="530.9" y1="370.90" x2="779.7" y2="370.90"/>
<line class="tick" x1="593.10" y1="544.1" x2="593.10" y2="536.9"/>
<line class="tick" x1="593.10" y1="327.6" x2="593.10" y2="334.8"/>
<line class="tick" x1="655.30" y1="544.1" x2="655.30" y2="536.9"/>
<line class="tick" x1="655.30" y1="327.6" x2="655.30" y2="334.8"/>
<line class="tick" x1="717.50" y1="544.1" x2="717.50" y2="536.9"/>
<line class="tick" x1="717.50" y1="327.6" x2="717.50" y2="334.8"/>
<line class="tick" x1="530.9" y1="500.80" x2="538.1" y2="500.80"/>
<line class="tick" x1="779.7" y1="500.80" x2="772.5" y2="500.80"/>
<line class="tick" x1="530.9" y1="457.50" x2="538.1" y2="457.50"/>
<line class="tick" x1="779.7" y1="457.50" x2="772.5" y2="457.50"/>
<line class="tick" x1="530.9" y1="414.20" x2="538.1" y2="414.20"/>
<line class="tick" x1="779.7" y1="414.20" x2="772.5" y2="414.20"/>
<line class="tick" x1="530.9" y1="370.90" x2="538.1" y2="370.90"/>
<line class="tick" x1="779.7" y1="370.90" x2="772.5" y2="370.90"/>
<g clip-path="url(#cld)">
<path class="cv" stroke="#00ff00" d="M530.90,500.80 L532.14,500.80 L533.39,500.80 L534.63,500.80 L535.88,500.80 L537.12,500.80 L538.36,500.80 L539.61,500.80 L540.85,500.80 L542.10,500.80 L543.34,500.80 L544.58,500.80 L545.83,500.80 L547.07,500.80 L548.32,500.80 L549.56,500.80 L550.80,500.80 L552.05,500.80 L553.29,500.80 L554.54,500.80 L555.78,500.80 L557.02,500.81 L558.27,500.81 L559.51,500.81 L560.76,500.82 L562.00,500.82 L563.24,500.83 L564.49,500.84 L565.73,500.85 L566.98,500.86 L568.22,500.86 L569.46,500.87 L570.71,500.87 L571.95,500.87 L573.20,500.86 L574.44,500.84 L575.68,500.82 L576.93,500.78 L578.17,500.73 L579.42,500.67 L580.66,500.59 L581.90,500.49 L583.15,500.37 L584.39,500.22 L585.64,500.05 L586.88,499.86 L588.12,499.63 L589.37,499.38 L590.61,499.09 L591.86,498.77 L593.10,498.42 L594.34,498.03 L595.59,497.61 L596.83,497.15 L598.08,496.65 L599.32,496.11 L600.56,495.54 L601.81,494.93 L603.05,494.29 L604.30,493.60 L605.54,492.88 L606.78,492.12 L608.03,491.32 L609.27,490.49 L610.52,489.62 L611.76,488.72 L613.00,487.79 L614.25,486.82 L615.49,485.82 L616.74,484.80 L617.98,483.74 L619.22,482.65 L620.47,481.54 L621.71,480.40 L622.96,479.23 L624.20,478.05 L625.44,476.84 L626.69,475.61 L627.93,474.36 L629.18,473.09 L630.42,471.80 L631.66,470.50 L632.91,469.19 L634.15,467.86 L635.40,466.52 L636.64,465.17 L637.88,463.80 L639.13,462.43 L640.37,461.06 L641.62,459.67 L642.86,458.28 L644.10,456.89 L645.35,455.49 L646.59,454.09 L647.84,452.69 L649.08,451.29 L650.32,449.89 L651.57,448.49 L652.81,447.09 L654.06,445.69 L655.30,444.30 L656.54,442.91 L657.79,441.53 L659.03,440.15 L660.28,438.78 L661.52,437.41 L662.76,436.06 L664.01,434.71 L665.25,433.36 L666.50,432.03 L667.74,430.70 L668.98,429.39 L670.23,428.08 L671.47,426.79 L672.72,425.50 L673.96,424.23 L675.20,422.97 L676.45,421.71 L677.69,420.47 L678.94,419.24 L680.18,418.03 L681.42,416.82 L682.67,415.63 L683.91,414.45 L685.16,413.28 L686.40,412.12 L687.64,410.98 L688.89,409.85 L690.13,408.73 L691.38,407.63 L692.62,406.53 L693.86,405.45 L695.11,404.39 L696.35,403.33 L697.60,402.29 L698.84,401.26 L700.08,400.24 L701.33,399.24 L702.57,398.25 L703.82,397.27 L705.06,396.30 L706.30,395.35 L707.55,394.40 L708.79,393.47 L710.04,392.55 L711.28,391.64 L712.52,390.75 L713.77,389.86 L715.01,388.99 L716.26,388.12 L717.50,387.27 L718.74,386.43 L719.99,385.60 L721.23,384.78 L722.48,383.97 L723.72,383.17 L724.96,382.39 L726.21,381.61 L727.45,380.84 L728.70,380.08 L729.94,379.33 L731.18,378.59 L732.43,377.85 L733.67,377.13 L734.92,376.42 L736.16,375.71 L737.40,375.01 L738.65,374.32 L739.89,373.64 L741.14,372.97 L742.38,372.30 L743.62,371.65 L744.87,371.00 L746.11,370.35 L747.36,369.72 L748.60,369.09 L749.84,368.46 L751.09,367.85 L752.33,367.24 L753.58,366.63 L754.82,366.04 L756.06,365.44 L757.31,364.86 L758.55,364.28 L759.80,363.70 L761.04,363.13 L762.28,362.57 L763.53,362.01 L764.77,361.46 L766.02,360.91 L767.26,360.36 L768.50,359.82 L769.75,359.28 L770.99,358.75 L772.24,358.22 L773.48,357.70 L774.72,357.18 L775.97,356.66 L777.21,356.14 L778.46,355.63 L779.70,355.13"/>
<path class="cv" stroke="#0000ff" d="M530.90,500.80 L532.14,500.80 L533.39,500.80 L534.63,500.80 L535.88,500.80 L537.12,500.80 L538.36,500.80 L539.61,500.80 L540.85,500.80 L542.10,500.80 L543.34,500.80 L544.58,500.80 L545.83,500.80 L547.07,500.80 L548.32,500.80 L549.56,500.80 L550.80,500.80 L552.05,500.80 L553.29,500.80 L554.54,500.80 L555.78,500.80 L557.02,500.80 L558.27,500.80 L559.51,500.80 L560.76,500.80 L562.00,500.81 L563.24,500.81 L564.49,500.81 L565.73,500.81 L566.98,500.82 L568.22,500.82 L569.46,500.82 L570.71,500.82 L571.95,500.82 L573.20,500.82 L574.44,500.82 L575.68,500.81 L576.93,500.80 L578.17,500.79 L579.42,500.77 L580.66,500.74 L581.90,500.71 L583.15,500.67 L584.39,500.63 L585.64,500.57 L586.88,500.51 L588.12,500.43 L589.37,500.35 L590.61,500.26 L591.86,500.15 L593.10,500.03 L594.34,499.90 L595.59,499.76 L596.83,499.60 L598.08,499.44 L599.32,499.26 L600.56,499.06 L601.81,498.85 L603.05,498.63 L604.30,498.40 L605.54,498.15 L606.78,497.89 L608.03,497.61 L609.27,497.32 L610.52,497.02 L611.76,496.71 L613.00,496.39 L614.25,496.05 L615.49,495.70 L616.74,495.34 L617.98,494.98 L619.22,494.60 L620.47,494.21 L621.71,493.81 L622.96,493.40 L624.20,492.98 L625.44,492.56 L626.69,492.13 L627.93,491.69 L629.18,491.24 L630.42,490.79 L631.66,490.33 L632.91,489.87 L634.15,489.40 L635.40,488.93 L636.64,488.46 L637.88,487.98 L639.13,487.49 L640.37,487.01 L641.62,486.52 L642.86,486.03 L644.10,485.54 L645.35,485.05 L646.59,484.56 L647.84,484.07 L649.08,483.58 L650.32,483.08 L651.57,482.59 L652.81,482.10 L654.06,481.61 L655.30,481.12 L656.54,480.64 L657.79,480.16 L659.03,479.67 L660.28,479.19 L661.52,478.72 L662.76,478.25 L664.01,477.78 L665.25,477.31 L666.50,476.85 L667.74,476.39 L668.98,475.93 L670.23,475.48 L671.47,475.03 L672.72,474.59 L673.96,474.15 L675.20,473.71 L676.45,473.28 L677.69,472.86 L678.94,472.44 L680.18,472.02 L681.42,471.61 L682.67,471.21 L683.91,470.80 L685.16,470.41 L686.40,470.02 L687.64,469.63 L688.89,469.25 L690.13,468.87 L691.38,468.50 L692.62,468.13 L693.86,467.77 L695.11,467.42 L696.35,467.07 L697.60,466.72 L698.84,466.38 L700.08,466.04 L701.33,465.71 L702.57,465.39 L703.82,465.07 L705.06,464.75 L706.30,464.44 L707.55,464.13 L708.79,463.83 L710.04,463.53 L711.28,463.24 L712.52,462.95 L713.77,462.66 L715.01,462.38 L716.26,462.11 L717.50,461.84 L718.74,461.57 L719.99,461.31 L721.23,461.05 L722.48,460.80 L723.72,460.54 L724.96,460.30 L726.21,460.05 L727.45,459.82 L728.70,459.58 L729.94,459.35 L731.18,459.12 L732.43,458.89 L733.67,458.67 L734.92,458.45 L736.16,458.24 L737.40,458.02 L738.65,457.81 L739.89,457.61 L741.14,457.40 L742.38,457.20 L743.62,457.01 L744.87,456.81 L746.11,456.62 L747.36,456.43 L748.60,456.24 L749.84,456.05 L751.09,455.87 L752.33,455.69 L753.58,455.51 L754.82,455.33 L756.06,455.16 L757.31,454.99 L758.55,454.81 L759.80,454.64 L761.04,454.48 L762.28,454.31 L763.53,454.15 L764.77,453.98 L766.02,453.82 L767.26,453.66 L768.50,453.50 L769.75,453.35 L770.99,453.19 L772.24,453.03 L773.48,452.88 L774.72,452.73 L775.97,452.57 L777.21,452.42 L778.46,452.27 L779.70,452.12"/>
<path class="cv" stroke="#ff0000" d="M530.90,500.80 L532.14,500.80 L533.39,500.80 L534.63,500.80 L535.88,500.80 L537.12,500.80 L538.36,500.80 L539.61,500.80 L540.85,500.80 L542.10,500.80 L543.34,500.80 L544.58,500.80 L545.83,500.80 L547.07,500.80 L548.32,500.80 L549.56,500.80 L550.80,500.80 L552.05,500.80 L553.29,500.80 L554.54,500.80 L555.78,500.80 L557.02,500.80 L558.27,500.80 L559.51,500.80 L560.76,500.80 L562.00,500.80 L563.24,500.80 L564.49,500.80 L565.73,500.80 L566.98,500.80 L568.22,500.80 L569.46,500.80 L570.71,500.80 L571.95,500.80 L573.20,500.80 L574.44,500.80 L575.68,500.79 L576.93,500.79 L578.17,500.79 L579.42,500.79 L580.66,500.78 L581.90,500.78 L583.15,500.78 L584.39,500.78 L585.64,500.78 L586.88,500.78 L588.12,500.78 L589.37,500.79 L590.61,500.79 L591.86,500.79 L593.10,500.80 L594.34,500.81 L595.59,500.82 L596.83,500.83 L598.08,500.85 L599.32,500.86 L600.56,500.88 L601.81,500.90 L603.05,500.92 L604.30,500.95 L605.54,500.98 L606.78,501.01 L608.03,501.04 L609.27,501.08 L610.52,501.11 L611.76,501.16 L613.00,501.20 L614.25,501.25 L615.49,501.29 L616.74,501.34 L617.98,501.40 L619.22,501.46 L620.47,501.51 L621.71,501.58 L622.96,501.64 L624.20,501.70 L625.44,501.77 L626.69,501.84 L627.93,501.92 L629.18,501.99 L630.42,502.07 L631.66,502.14 L632.91,502.22 L634.15,502.31 L635.40,502.39 L636.64,502.47 L637.88,502.56 L639.13,502.65 L640.37,502.74 L641.62,502.83 L642.86,502.92 L644.10,503.01 L645.35,503.10 L646.59,503.20 L647.84,503.29 L649.08,503.39 L650.32,503.48 L651.57,503.58 L652.81,503.67 L654.06,503.77 L655.30,503.87 L656.54,503.97 L657.79,504.06 L659.03,504.16 L660.28,504.26 L661.52,504.36 L662.76,504.46 L664.01,504.55 L665.25,504.65 L666.50,504.75 L667.74,504.84 L668.98,504.94 L670.23,505.04 L671.47,505.13 L672.72,505.22 L673.96,505.32 L675.20,505.41 L676.45,505.50 L677.69,505.60 L678.94,505.69 L680.18,505.78 L681.42,505.87 L682.67,505.96 L683.91,506.04 L685.16,506.13 L686.40,506.22 L687.64,506.30 L688.89,506.39 L690.13,506.47 L691.38,506.55 L692.62,506.63 L693.86,506.71 L695.11,506.79 L696.35,506.87 L697.60,506.95 L698.84,507.02 L700.08,507.10 L701.33,507.17 L702.57,507.24 L703.82,507.32 L705.06,507.39 L706.30,507.46 L707.55,507.52 L708.79,507.59 L710.04,507.66 L711.28,507.72 L712.52,507.79 L713.77,507.85 L715.01,507.91 L716.26,507.97 L717.50,508.03 L718.74,508.09 L719.99,508.15 L721.23,508.21 L722.48,508.26 L723.72,508.32 L724.96,508.37 L726.21,508.42 L727.45,508.47 L728.70,508.53 L729.94,508.58 L731.18,508.62 L732.43,508.67 L733.67,508.72 L734.92,508.77 L736.16,508.81 L737.40,508.86 L738.65,508.90 L739.89,508.94 L741.14,508.98 L742.38,509.02 L743.62,509.06 L744.87,509.10 L746.11,509.14 L747.36,509.18 L748.60,509.22 L749.84,509.26 L751.09,509.29 L752.33,509.33 L753.58,509.36 L754.82,509.39 L756.06,509.43 L757.31,509.46 L758.55,509.49 L759.80,509.52 L761.04,509.56 L762.28,509.59 L763.53,509.62 L764.77,509.64 L766.02,509.67 L767.26,509.70 L768.50,509.73 L769.75,509.76 L770.99,509.78 L772.24,509.81 L773.48,509.84 L774.72,509.86 L775.97,509.89 L777.21,509.91 L778.46,509.94 L779.70,509.96"/>
</g>
<line x1="530.9" y1="500.80" x2="779.7" y2="500.80" stroke="#999" stroke-width="1.9" style="mix-blend-mode:multiply"/>
<rect class="frame" x="530.9" y="327.6" width="248.80" height="216.50"/>
<text class="s" font-size="23" text-anchor="end" x="516.6" y="552.0">-5</text>
<text class="s" font-size="23" text-anchor="end" x="516.6" y="508.7">0</text>
<text class="s" font-size="23" text-anchor="end" x="516.6" y="465.4">5</text>
<text class="s" font-size="23" text-anchor="end" x="516.6" y="422.1">10</text>
<text class="s" font-size="23" text-anchor="end" x="516.6" y="378.8">15</text>
<text class="s" font-size="23" text-anchor="end" x="516.6" y="335.5">20</text>
<text class="s" font-size="23" text-anchor="middle" x="530.5" y="574.8">0</text>
<text class="s" font-size="23" text-anchor="middle" x="592.7" y="574.8">0.5</text>
<text class="s" font-size="23" text-anchor="middle" x="654.9" y="574.8">1</text>
<text class="s" font-size="23" text-anchor="middle" x="717.1" y="574.8">1.5</text>
<text class="s" font-size="23" text-anchor="middle" x="779.3" y="574.8">2</text>
</g>
<text class="s" font-size="23" x="159.7" y="125.6">(a) D=0.18J</text>
<text class="s" font-size="23" x="159.7" y="363.7">(b) D=0.33J</text>
<text class="s" font-size="23" x="537.3" y="125.6">(c) D=0.18J</text>
<text class="s" font-size="23" x="537.3" y="363.7">(d) D=0.33J</text>
<text class="t" font-size="29.2" text-anchor="middle" x="278.4" y="56">ϕ=7π/36</text>
<text class="t" font-size="29.2" text-anchor="middle" x="654.6" y="56">ϕ=4π/36</text>
<text class="s" font-size="28.3" x="239.4" y="608.3">k</text>
<text class="s" font-size="23.8" x="253.5" y="617.4">B</text>
<text class="s" font-size="28.3" x="269.1" y="608.3">T/D</text>
<text class="s" font-size="28.3" x="617.1" y="608.3">k</text>
<text class="s" font-size="23.8" x="631.2" y="617.4">B</text>
<text class="s" font-size="28.3" x="646.8" y="608.3">T/D</text>
<text x="327.2" y="127.8" fill="#ff0000" font-family="'Liberation Serif',serif" font-size="36">κ</text>
<text x="346.4" y="131.9" fill="#ff0000" stroke="#ff0000" stroke-width="0.3" font-family="Liberation Sans" font-size="22.6">xy</text>
<text x="229.1" y="198.8" fill="#00ff00" font-family="'Liberation Serif',serif" font-size="36">κ</text>
<text x="248.79999999999998" y="203.4" fill="#00ff00" stroke="#00ff00" stroke-width="0.3" font-family="Liberation Sans" font-size="22.6">yz</text>
<text x="347.1" y="253.2" fill="#0000ff" font-family="'Liberation Serif',serif" font-size="36">κ</text>
<text x="365.8" y="257.8" fill="#0000ff" stroke="#0000ff" stroke-width="0.3" font-family="Liberation Sans" font-size="22.6">zx</text>
<g transform="translate(64.9,0) rotate(-90)">
<text x="-458.5" y="0" fill="#000" font-family="'Liberation Serif',serif" font-size="36">κ</text>
<text font-family="Liberation Serif" font-size="25" x="-440.3" y="5.7" fill="#000">μν</text>
<text class="s" font-size="34.3" x="-400.3" y="0">[10</text>
<text class="s" font-size="27.5" x="-351.6" y="-17.6">-4</text>
<text class="s" font-size="34.3" x="-316.7" y="0">W/Km]</text>
</g>
</svg></body></html>
